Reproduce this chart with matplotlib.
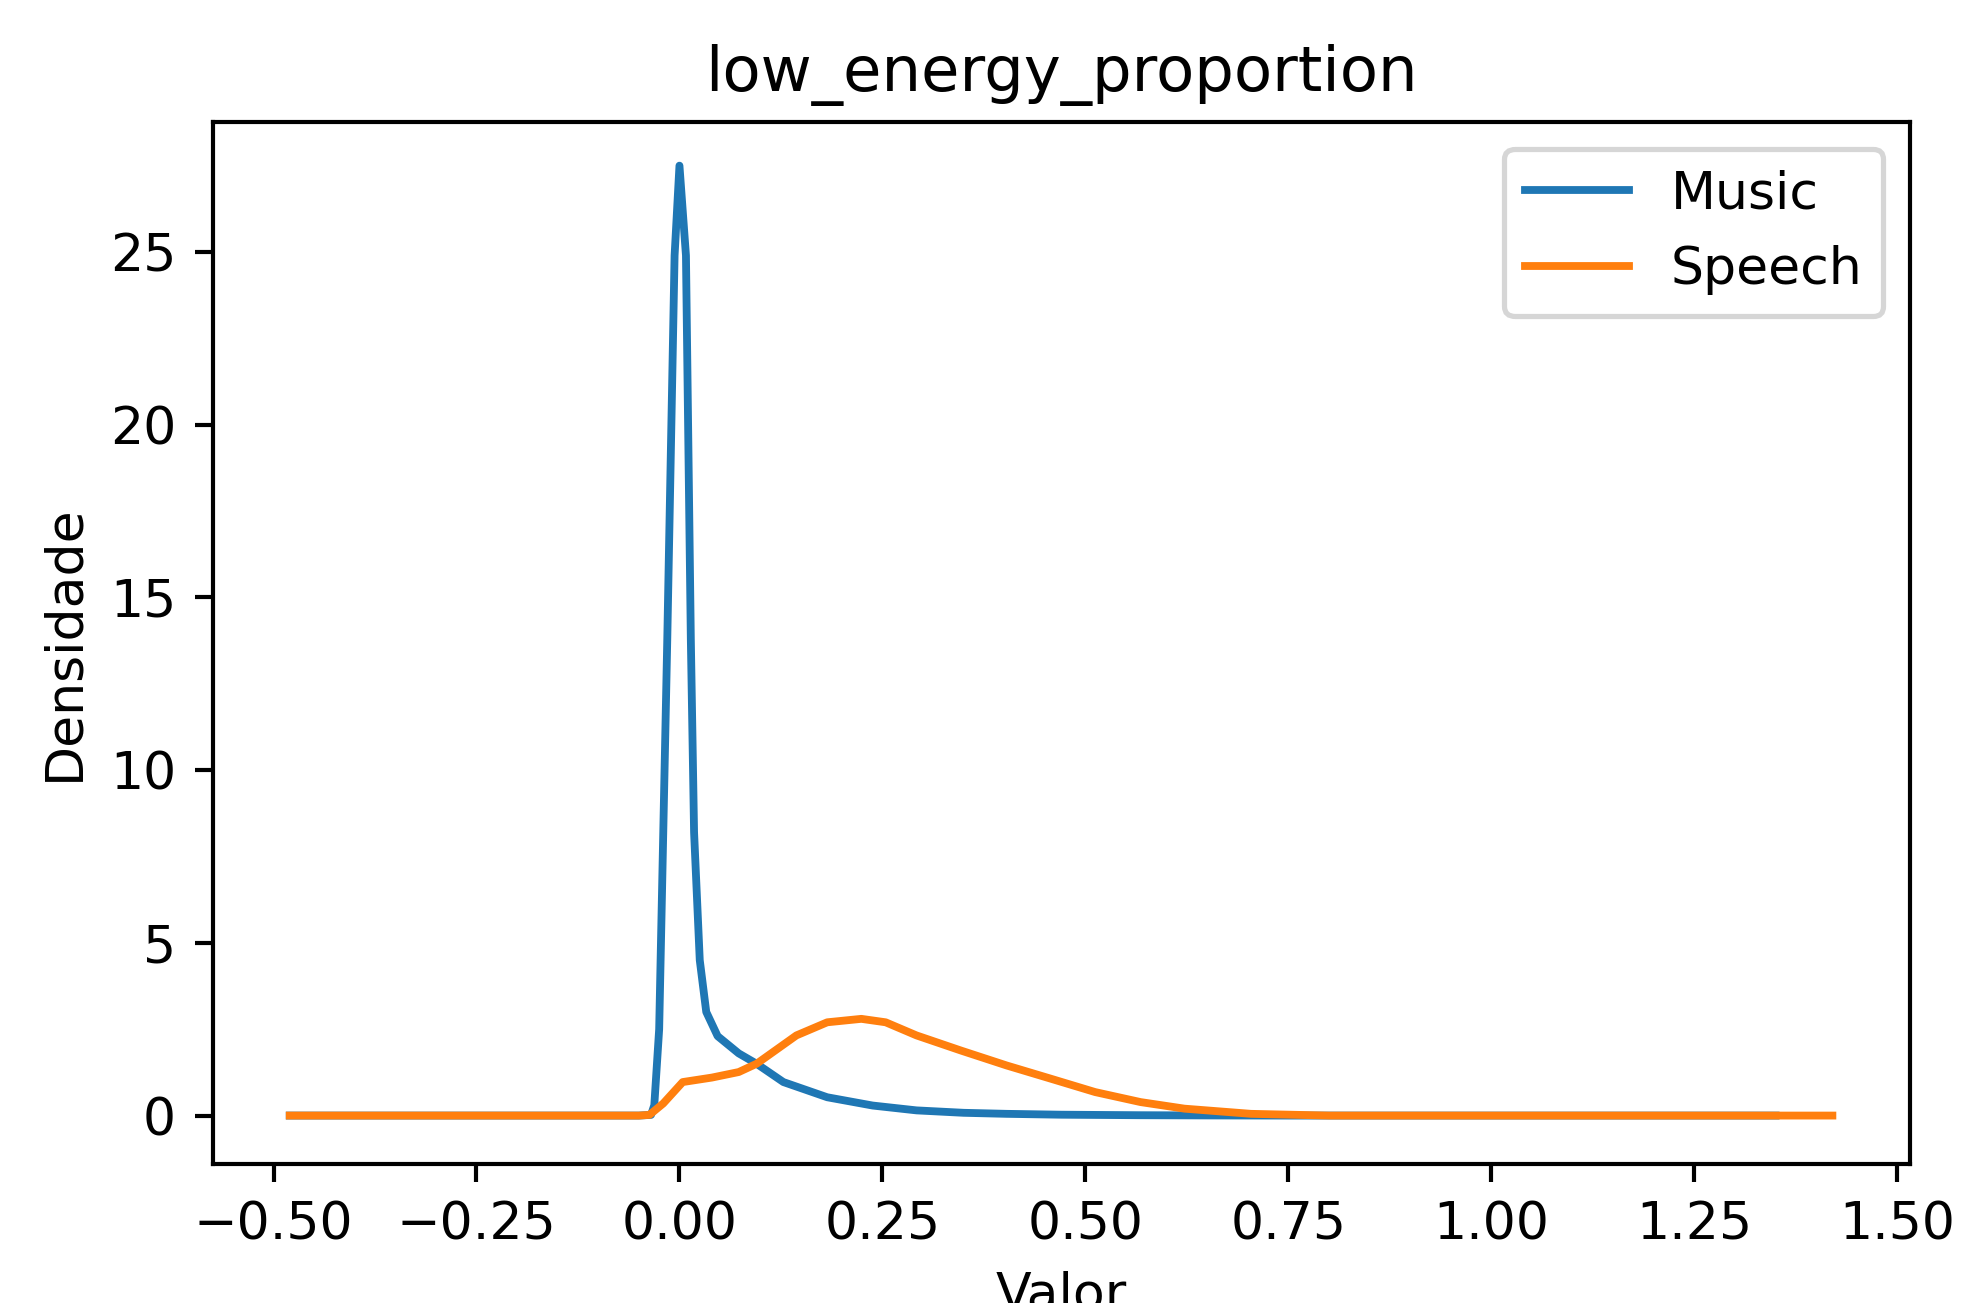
import matplotlib
matplotlib.use("Agg")
import matplotlib.pyplot as plt

# ----- data (KDE curves) -----------------------------------------------------
music_x = [-0.48, -0.20, -0.05, -0.035, -0.031, -0.025, -0.015, -0.006, 0.0,
           0.008, 0.014, 0.018, 0.025, 0.033, 0.047, 0.073, 0.095, 0.128,
           0.182, 0.238, 0.292, 0.35, 0.403, 0.47, 0.568, 0.65, 0.75, 1.00, 1.35]
music_y = [0.0, 0.0, 0.0, 0.02, 0.3, 2.5, 13.8, 24.9, 27.5,
           24.9, 13.8, 8.2, 4.5, 3.0, 2.3, 1.8, 1.5, 0.97,
           0.53, 0.29, 0.15, 0.08, 0.05, 0.025, 0.01, 0.004, 0.0, 0.0, 0.0]

speech_x = [-0.48, -0.20, -0.05, -0.037, -0.02, 0.004, 0.04, 0.073, 0.095,
            0.144, 0.182, 0.224, 0.254, 0.292, 0.347, 0.403, 0.457, 0.512,
            0.568, 0.622, 0.704, 0.80, 1.00, 1.42]
speech_y = [0.0, 0.0, 0.0, 0.02, 0.35, 0.97, 1.1, 1.26, 1.5,
            2.32, 2.7, 2.8, 2.7, 2.32, 1.88, 1.45, 1.07, 0.68,
            0.39, 0.2, 0.05, 0.0, 0.0, 0.0]

fig = plt.figure(figsize=(1987 / 375, 1303 / 375), dpi=375)
ax = fig.add_axes([0.107, 0.107, 0.854, 0.799])

ax.plot(music_x, music_y, label="Music")
ax.plot(speech_x, speech_y, label="Speech")

ax.set_xlim(-0.575, 1.515)
ax.set_ylim(-1.39, 28.75)
ax.set_xticks([-0.5, -0.25, 0.0, 0.25, 0.5, 0.75, 1.0, 1.25, 1.5])
ax.set_yticks([0, 5, 10, 15, 20, 25])

ax.set_title("low_energy_proportion")
ax.set_xlabel("Valor")
ax.set_ylabel("Densidade")
ax.legend(loc="upper right")

fig.savefig("out.png", dpi=375)
